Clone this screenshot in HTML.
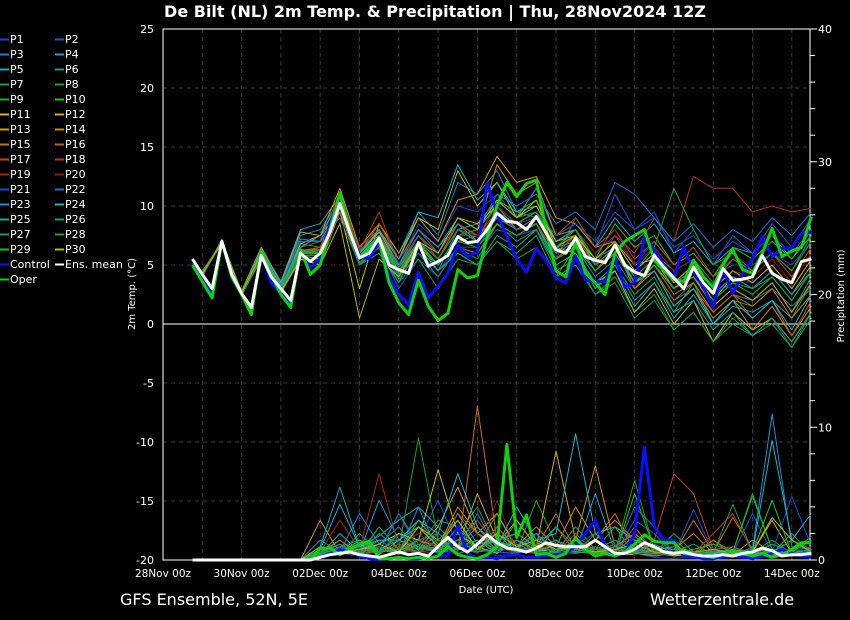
<!DOCTYPE html>
<html><head><meta charset="utf-8"><style>
html,body{margin:0;padding:0;background:#000;width:850px;height:620px;overflow:hidden}
svg text{font-family:"DejaVu Sans","Liberation Sans",sans-serif;fill:#fff}
</style></head><body>
<svg id="chart" width="850" height="620" xmlns="http://www.w3.org/2000/svg">
<rect width="850" height="620" fill="#000"/>
<text x="435" y="17" text-anchor="middle" font-size="16" font-weight="bold">De Bilt  (NL)  2m Temp. &amp; Precipitation | Thu, 28Nov2024 12Z</text>
<g id="grid"></g>
<g id="axes"></g>
<g id="series"></g>
<g id="legend"></g>
<text transform="translate(135,294) rotate(-90)" text-anchor="middle" font-size="10">2m Temp. (°C)</text>
<text transform="translate(844,296) rotate(-90)" text-anchor="middle" font-size="10">Precipitation (mm)</text>
<text x="486" y="593" text-anchor="middle" font-size="10">Date (UTC)</text>
<text x="120" y="605" font-size="16">GFS Ensemble, 52N, 5E</text>
<text x="650" y="605" font-size="16">Wetterzentrale.de</text>
</svg>
<script>
const xLabels=["28Nov 00z","30Nov 00z","02Dec 00z","04Dec 00z","06Dec 00z","08Dec 00z","10Dec 00z","12Dec 00z","14Dec 00z"];
const tempTicks=[25,20,15,10,5,0,-5,-10,-15,-20];
const precipTicks=[0,10,20,30,40];
const operTemp=[5.0,3.6,2.2,7.0,4.0,2.5,0.8,6.2,4.2,2.5,1.4,6.3,4.2,5.0,8.0,11.1,8.0,5.6,6.5,7.1,3.5,1.8,0.8,3.7,1.5,0.3,0.9,4.6,3.9,4.1,7.4,10.0,12.0,10.8,11.9,12.2,8.0,4.5,4.0,7.1,4.3,3.5,2.5,6.0,7.0,7.5,8.0,5.4,4.5,3.8,3.6,5.4,4.0,3.1,5.0,6.3,4.6,4.3,6.0,8.1,5.7,6.2,6.5,9.1];
const controlTemp=[5.2,3.8,2.5,7.0,3.9,2.6,1.2,6.0,3.5,2.6,1.8,6.0,4.8,5.5,8.5,10.8,8.0,5.8,5.5,7.0,4.0,2.5,1.6,4.4,2.2,3.2,4.3,6.7,5.7,6.1,11.9,9.4,7.4,5.5,4.4,6.4,5.4,3.9,3.5,5.7,3.7,3.6,3.6,5.7,3.1,3.5,7.3,6.3,5.0,3.9,6.5,4.5,3.1,1.4,4.6,2.6,4.3,5.5,7.4,5.7,6.4,6.5,7.7,7.8];
const meanTemp=[5.5,4.2,3.0,7.0,4.2,2.6,1.4,5.8,4.0,3.0,2.0,6.0,5.3,6.0,7.8,10.2,7.8,5.6,6.0,7.3,5.0,4.6,4.3,6.9,4.9,5.3,5.8,7.4,6.9,7.0,8.0,9.4,8.7,8.6,8.0,9.1,7.7,6.3,6.0,7.3,5.7,5.4,5.2,6.7,5.0,4.4,4.1,5.8,4.8,3.9,3.0,4.8,3.5,2.6,4.7,3.7,3.8,4.0,5.8,4.3,3.8,3.5,5.3,5.5];
const operPrecip=[0,0,0,0,0,0,0,0,0,0,0,0,0,0.9,0.9,0.4,0.8,1.2,1.4,0.1,0.1,0.2,0.1,0.2,0.1,0.3,1.0,0.4,0.2,0.1,0.4,1.0,8.7,1.7,3.4,0.4,0.5,0.2,0.5,1.7,0.8,0.3,0.5,0.3,0.6,1.2,1.9,1.4,1.3,1.3,0.5,0.4,0.3,0.2,0.4,0.7,0.5,0.3,0.5,0.2,0.4,0.8,1.3,1.3];
const controlPrecip=[0,0,0,0,0,0,0,0,0,0,0,0,0,0.2,0.5,0.8,0.6,0.3,0.1,0,0.1,0.2,0.1,0.1,0.2,0.3,0.3,2.6,0.5,0.1,0.2,0.1,0.3,0.4,0.2,0.2,0.3,0.4,0.5,1.0,2.0,3.0,1.0,0.3,0.5,2.0,8.5,2.5,1.5,1.5,0.3,0.2,0.1,0.1,0.2,0.3,0.2,0.1,0.3,0.5,0.8,0.5,0.3,0.2];
const meanPrecip=[0,0,0,0,0,0,0,0,0,0,0,0,0,0.2,0.4,0.5,0.6,0.4,0.3,0.2,0.4,0.6,0.4,0.5,0.3,1.0,1.7,1.0,0.6,1.2,1.9,1.3,0.9,0.8,0.6,0.9,1.3,1.1,1.0,1.0,1.0,1.5,1.0,0.5,0.5,0.8,1.3,1.0,0.6,0.5,0.6,0.4,0.3,0.3,0.4,0.3,0.5,0.6,0.9,0.7,0.3,0.4,0.4,0.5];
const memberColors=["#2040d0","#1e56c8","#1a82c4","#1aa0cc","#1aa8b4","#1a9c84","#1a9a60","#1aa040","#20a820","#30c010","#c0c010","#c8b010","#c89a10","#c88a10","#c87010","#c05c10","#b84a10","#b03a10","#a02a10","#901a10","#1a50c8","#1a72c8","#1a92cc","#1ab4cc","#1aa494","#1a9c70","#1a9a50","#1aa430","#20b820","#b4b410"];
const memberTemp=[
[4.1,7.1,2.4,6.0,3.2,6.5,7.0,11.0,6.0,8.0,5.0,8.5,7.0,10.0,9.5,11.0,9.0,10.0,7.0,8.0,6.0,7.5,5.0,7.0,5.0,6.0,4.0,5.0,5.0,6.0,5.0,7.0],
[4.3,6.9,2.7,5.6,2.8,5.8,5.5,9.8,5.0,6.5,3.0,5.5,4.0,6.5,6.0,8.0,7.5,8.0,5.5,9.0,6.5,11.0,8.0,9.5,6.0,8.0,5.0,7.5,6.0,8.5,6.5,9.0],
[4.2,7.0,2.8,6.2,3.4,7.5,8.0,10.5,6.5,8.5,6.0,9.5,7.5,12.0,11.0,13.0,9.5,9.0,6.0,6.5,4.0,5.5,3.0,4.5,2.0,3.5,1.0,2.5,2.0,3.0,1.5,3.0],
[4.0,7.2,2.5,5.5,2.6,5.5,5.0,9.5,5.0,6.0,3.5,7.0,4.5,8.0,8.5,10.5,9.0,11.5,7.5,8.5,6.5,9.0,7.0,8.5,6.0,7.0,5.0,6.5,6.0,7.5,5.5,8.0],
[4.4,6.8,2.6,6.4,3.6,8.0,8.5,10.8,6.2,7.8,5.5,8.0,6.5,9.0,8.0,10.0,8.0,8.5,5.0,6.0,3.0,4.5,1.5,3.5,0.5,2.5,0.0,1.5,1.0,2.0,0.5,2.5],
[4.2,7.0,2.6,5.9,3.0,6.2,6.0,10.0,5.5,7.0,4.0,6.5,5.0,7.0,7.5,9.0,8.5,9.5,7.0,8.0,5.5,6.5,3.5,5.0,3.0,4.0,1.5,3.0,2.0,3.5,1.0,4.0],
[4.1,7.1,2.5,5.7,2.9,5.5,5.5,10.5,5.0,7.5,4.5,6.0,4.0,6.5,5.5,8.5,7.0,8.0,4.5,5.5,2.5,4.0,1.0,2.5,-0.5,1.0,-1.5,0.5,-1.0,0.0,-2.0,0.5],
[4.3,6.9,2.7,6.1,3.2,6.8,6.5,10.2,5.8,7.2,4.8,7.5,5.5,8.5,7.5,9.5,8.5,9.0,6.5,7.5,5.5,7.0,4.5,6.0,4.5,5.5,3.5,5.5,4.5,6.0,4.5,7.5],
[4.2,7.0,2.4,5.6,2.7,5.8,5.8,9.5,5.2,6.8,3.8,6.0,4.5,6.0,5.0,7.0,6.0,7.5,4.0,6.5,3.0,5.0,2.5,4.0,1.0,3.5,0.0,2.0,1.5,3.0,0.5,3.5],
[4.2,7.1,2.6,6.0,3.1,6.0,6.2,10.8,5.7,7.5,4.5,7.0,5.5,8.0,7.0,10.5,9.5,10.5,7.0,7.5,5.5,8.5,6.5,7.5,5.0,6.0,4.0,6.5,5.5,7.0,5.5,7.5],
[4.3,7.0,2.7,6.2,3.0,6.8,7.5,9.5,3.0,8.5,5.5,9.0,8.0,13.0,10.0,12.0,9.0,10.5,6.5,6.0,3.5,4.5,1.0,3.0,0.0,2.0,-1.5,1.0,-0.5,0.5,-1.5,1.0],
[4.1,6.9,2.5,5.8,2.9,6.0,6.0,10.0,6.0,7.8,5.0,7.5,6.0,9.0,8.5,10.0,8.5,9.5,6.5,7.5,5.0,6.0,3.5,5.0,3.0,4.5,2.0,4.0,3.0,4.5,2.5,5.0],
[4.4,6.8,2.8,6.5,3.5,7.8,7.5,11.5,6.5,8.5,6.0,9.0,7.0,10.5,11.0,14.2,12.0,12.5,9.0,8.5,6.5,7.0,5.0,5.5,3.0,4.0,1.5,3.0,2.0,3.5,1.0,3.5],
[4.2,7.0,2.6,5.9,3.0,6.3,6.3,10.3,5.5,7.2,4.4,6.8,5.0,7.5,8.0,13.5,11.0,12.0,7.5,8.0,5.0,6.5,3.0,4.5,1.5,3.0,0.5,2.0,-0.5,1.5,-1.0,1.5],
[4.2,7.0,2.5,5.5,2.7,5.5,5.0,9.5,5.0,7.0,4.0,6.5,4.5,6.5,6.0,8.5,7.5,8.5,5.5,7.0,4.5,6.5,3.0,5.0,2.5,3.5,1.0,2.5,1.5,3.0,0.5,2.5],
[4.5,6.9,2.6,6.0,3.0,6.0,6.5,10.5,6.5,8.0,5.0,7.5,5.5,8.5,7.5,9.0,8.0,8.5,6.0,7.5,5.0,6.0,3.5,4.5,2.0,3.0,1.0,2.5,0.5,2.0,-1.0,2.0],
[4.3,7.0,2.7,6.0,3.0,6.2,6.5,10.5,6.0,8.5,5.5,8.0,6.0,8.5,7.0,9.0,8.5,9.5,7.5,9.0,6.5,8.0,5.5,7.0,5.0,6.5,4.0,5.5,4.5,6.0,4.0,6.5],
[4.2,7.1,2.6,6.1,3.3,6.5,7.0,11.2,6.2,9.5,5.0,7.5,5.5,8.0,7.5,9.5,8.0,8.5,6.0,7.0,5.0,7.5,6.0,9.0,7.0,12.5,11.5,11.5,9.5,10.0,9.5,9.8],
[4.2,7.0,2.5,5.8,3.0,6.0,5.8,10.0,5.5,7.0,4.5,6.5,5.0,7.0,7.0,9.0,8.0,9.0,6.0,7.0,5.0,6.0,4.0,5.5,3.5,4.5,2.5,4.0,3.5,5.0,3.0,5.5],
[4.3,6.9,2.7,6.0,3.0,6.0,6.0,10.5,6.0,7.5,4.8,7.0,5.0,7.5,7.5,10.0,8.5,9.0,6.5,8.0,6.0,8.0,5.0,6.5,4.5,5.5,3.0,4.5,4.0,5.5,3.5,6.0],
[4.1,7.0,2.6,5.9,2.9,6.0,6.0,10.0,5.0,7.0,4.0,6.0,4.5,6.5,6.5,9.0,8.5,9.5,7.5,8.5,7.0,9.5,8.0,9.0,6.5,7.5,5.5,7.0,6.0,7.5,6.0,8.0],
[4.2,7.1,2.5,6.0,3.1,7.0,7.0,9.0,5.0,6.5,4.5,7.5,6.0,9.0,8.0,11.0,10.0,11.0,8.5,9.5,8.0,12.0,11.0,9.0,7.0,8.5,6.5,8.0,7.0,9.0,7.5,9.5],
[4.2,7.0,2.7,6.3,3.4,7.2,7.0,10.0,6.0,7.5,5.0,8.0,6.5,8.5,7.0,9.0,8.0,9.0,6.0,7.0,4.5,6.0,3.5,5.0,3.0,4.5,2.5,4.0,3.0,4.5,2.5,4.5],
[4.4,6.9,2.6,6.2,3.2,6.5,7.5,10.5,6.0,8.0,5.5,9.5,9.0,13.5,10.5,12.0,9.5,10.0,7.0,8.0,5.0,6.5,3.5,4.5,1.5,3.0,0.0,2.0,0.5,2.0,-0.5,2.5],
[4.2,7.0,2.6,5.8,3.0,6.0,6.0,10.0,5.5,7.0,4.2,6.5,4.5,6.0,5.0,7.5,6.5,8.0,5.0,6.0,3.5,5.0,2.0,3.5,1.0,2.0,-0.5,1.0,-1.0,0.5,-1.5,1.0],
[4.3,7.0,2.6,6.0,3.0,6.2,6.2,10.3,5.8,7.5,4.8,7.0,5.5,8.0,7.0,9.5,8.5,9.5,6.5,7.0,5.0,6.5,4.0,5.5,3.5,4.5,2.5,3.5,3.0,4.0,2.0,4.5],
[4.2,7.0,2.5,5.7,2.8,5.8,5.5,10.0,5.0,6.5,3.5,5.5,3.0,5.5,5.0,7.0,5.5,6.5,4.0,5.0,2.5,3.5,0.5,2.0,-0.5,1.0,-1.5,0.0,-1.0,0.5,-2.0,1.0],
[4.2,7.0,2.6,6.0,3.0,6.0,6.0,10.5,5.5,7.0,4.5,7.0,5.0,7.5,8.0,10.5,9.0,9.5,6.5,8.0,5.5,7.0,4.5,6.5,11.5,8.0,5.0,6.0,4.5,6.0,4.5,7.0],
[4.3,7.0,2.7,6.0,3.0,6.2,6.0,10.0,5.5,7.0,4.5,6.5,5.0,7.0,6.5,8.5,7.5,8.5,5.5,6.5,4.5,6.0,3.5,5.0,3.0,4.0,2.0,3.5,2.5,4.0,2.0,4.5],
[4.2,7.0,2.6,6.0,2.8,5.5,5.0,8.5,0.5,5.5,4.0,7.0,6.0,9.0,8.0,10.5,9.0,10.0,7.0,7.5,5.5,7.0,4.5,6.0,3.5,5.0,3.0,4.5,3.5,5.0,3.0,5.5]];
const memberPrecip=[
[0,0,0,0,0,0,0.2,0.5,0.3,1,0.5,0.8,1.5,0.5,1,0.3,0.5,1.2,0.4,0.6,1,0.3,0.5,0.2,0.1,0.3,0.2,0.5,0.3,0.2,0.4,0.2],
[0,0,0,0,0,0,0.5,1.2,0.3,2.5,0.8,1.5,4.5,1.0,2.0,0.5,1.5,0.6,0.8,1.2,2.0,0.5,3.0,2.0,0.4,0.2,0.3,0.5,3.5,0.5,1.5,0.5],
[0,0,0,0,0,0,1.5,0.6,3.5,1.2,2.5,0.7,2.0,0.9,3.5,0.8,1.0,2.0,0.6,1.5,0.8,1.5,0.6,0.3,0.5,0.2,0.8,0.3,1.0,0.4,0.5,0.8],
[0,0,0,0,0,0,0.4,2.0,0.6,4.5,1.5,2.5,1.0,3.5,1.2,2.0,0.6,1.0,2.5,0.6,5.0,0.6,1.8,0.5,0.3,0.5,0.2,1.0,0.4,1.2,0.6,0.4],
[0,0,0,0,0,0,1.0,5.5,1.0,1.8,3.0,4.0,2.5,1.0,2.5,0.6,1.5,0.6,1.2,0.8,0.6,1.0,0.5,0.3,0.5,0.3,0.2,0.5,0.3,0.6,0.4,0.3],
[0,0,0,0,0,0,0.3,1.0,1.5,0.5,2.0,1.0,3.0,2.5,1.0,3.5,0.8,2.0,0.5,1.5,0.6,0.4,0.8,0.5,0.6,1.2,0.4,0.3,0.6,0.5,0.8,0.6],
[0,0,0,0,0,0,0.8,0.4,2.0,0.6,3.5,1.2,0.6,2.0,4.0,1.0,1.5,0.6,0.8,1.2,0.5,0.3,1.0,0.4,0.6,0.3,1.5,0.4,0.3,0.5,2.0,0.4],
[0,0,0,0,0,0,0.4,1.5,0.5,2.5,0.8,9.2,1.5,3.0,0.6,2.5,0.8,1.0,1.5,0.5,2.0,0.6,0.5,0.8,0.4,0.3,0.5,0.6,5.0,0.8,0.4,0.5],
[0,0,0,0,0,0,0.6,0.8,1.2,0.6,2.0,1.0,0.5,1.5,3.0,1.0,0.6,4.5,1.2,0.5,0.8,2.5,0.4,0.6,1.5,0.4,0.3,0.5,0.4,0.3,0.6,1.8],
[0,0,0,0,0,0,0.2,0.9,0.5,1.5,0.6,3.0,1.2,0.8,1.5,0.5,3.0,1.0,0.5,0.8,0.6,0.4,5.0,0.8,0.3,0.6,0.4,0.5,0.6,4.5,0.5,0.8],
[0,0,0,0,0,0,0.3,1.0,0.5,1.2,2.0,1.5,6.8,2.0,1.0,0.5,1.5,0.8,0.6,1.0,0.6,0.5,0.4,0.8,0.3,0.5,0.6,0.3,0.5,0.4,0.3,0.5],
[0,0,0,0,0,0,0.5,0.4,0.8,1.0,0.5,2.5,1.5,1.0,5.0,1.5,2.0,1.0,8.2,1.5,0.6,1.2,0.5,0.4,0.6,0.5,0.3,0.4,0.6,3.0,0.5,0.4],
[0,0,0,0,0,0,3.0,0.5,1.2,0.4,1.5,0.8,2.5,5.5,2.0,1.2,3.0,1.0,0.6,1.5,7.1,1.0,2.0,0.8,1.0,0.6,0.4,0.5,0.8,0.6,0.4,0.5],
[0,0,0,0,0,0,0.4,0.8,0.5,1.0,0.6,1.5,1.0,4.0,2.0,3.5,1.0,2.5,1.0,4.0,1.5,3.0,1.5,0.6,0.8,2.0,0.5,0.4,1.5,0.6,0.8,0.4],
[0,0,0,0,0,0,0.6,1.5,0.4,0.8,0.5,1.0,0.8,0.6,11.6,1.5,2.0,1.0,3.5,0.8,1.5,3.5,0.6,1.2,0.5,3.0,0.6,3.2,0.8,0.5,0.6,0.4],
[0,0,0,0,0,0,0.3,0.6,0.8,0.5,1.2,0.6,0.8,3.5,2.0,0.8,1.0,0.5,2.5,0.6,1.0,0.5,2.5,0.6,0.4,0.5,1.5,0.6,0.5,0.3,0.6,0.5],
[0,0,0,0,0,0,0.2,0.5,0.6,0.8,0.4,1.5,0.6,1.0,0.5,2.5,1.0,0.6,0.5,2.0,0.6,0.8,0.5,1.5,6.5,5.0,0.8,1.0,0.5,0.6,0.4,0.5],
[0,0,0,0,0,0,0.5,1.2,0.4,0.6,1.0,0.5,1.5,0.8,3.0,1.0,0.5,1.2,0.6,2.5,0.8,0.5,1.2,0.4,0.6,0.5,2.0,3.5,0.6,0.5,0.8,1.5],
[0,0,0,0,0,0,0.6,3.0,0.8,6.5,1.0,2.0,0.8,1.5,0.6,1.0,0.5,0.8,1.2,0.6,0.5,0.8,0.6,0.4,0.5,0.6,0.3,0.5,0.4,0.6,0.5,0.4],
[0,0,0,0,0,0,0.3,0.5,0.4,0.6,0.8,0.5,0.6,1.0,0.5,4.5,0.6,0.5,0.8,0.6,0.5,1.2,0.4,0.6,0.8,0.5,0.4,0.6,0.5,0.8,0.6,1.0],
[0,0,0,0,0,0,0.5,0.6,0.8,1.5,0.6,1.0,0.5,0.8,1.5,0.6,1.0,0.5,0.8,0.6,0.5,1.0,0.6,0.8,0.5,3.8,0.6,0.4,0.5,0.6,4.8,1.0],
[0,0,0,0,0,0,0.4,1.0,0.5,0.6,3.5,0.8,1.0,0.5,0.8,0.6,0.5,1.0,0.6,0.5,0.8,0.6,4.0,2.5,0.5,0.4,0.6,0.5,0.6,0.5,0.8,0.6],
[0,0,0,0,0,0,0.6,0.5,1.5,0.8,0.5,4.0,0.6,2.5,1.0,1.5,0.8,2.0,0.6,1.0,0.5,0.8,0.6,1.2,0.5,0.4,0.6,0.5,0.8,11.0,1.0,0.8],
[0,0,0,0,0,0,0.8,4.2,1.0,1.5,1.5,3.0,2.0,6.5,2.5,1.0,4.0,1.5,2.0,9.5,2.0,2.5,1.5,1.0,0.8,0.6,0.5,0.8,0.6,9.0,1.5,3.5],
[0,0,0,0,0,0,0.4,0.6,1.0,0.8,1.5,1.0,0.6,0.8,1.2,1.5,2.0,1.0,1.5,0.8,0.6,1.0,0.8,0.6,0.5,0.4,0.6,0.8,0.5,0.6,0.5,0.8],
[0,0,0,0,0,0,0.6,1.2,0.5,2.0,0.8,1.5,2.0,1.0,1.5,0.8,1.2,0.6,2.5,1.0,0.8,0.6,0.5,0.8,0.6,0.5,0.8,0.6,0.5,1.2,0.6,0.5],
[0,0,0,0,0,0,0.3,0.8,0.6,1.0,0.5,1.2,0.8,1.5,0.6,0.8,1.5,1.0,0.6,2.5,0.8,1.5,0.6,0.5,2.0,0.6,0.5,4.2,0.6,1.5,0.5,0.6],
[0,0,0,0,0,0,0.5,0.6,0.8,0.5,1.0,0.6,1.5,0.8,0.6,1.0,0.8,0.5,0.6,1.0,0.8,0.6,6.0,0.8,0.5,0.6,0.4,0.5,0.8,0.6,1.5,0.8],
[0,0,0,0,0,0,0.8,0.5,1.5,0.6,0.8,1.0,0.6,2.0,0.8,1.5,0.6,0.8,1.0,0.6,0.5,0.8,0.6,0.5,0.6,0.8,1.2,0.6,4.8,0.8,0.6,1.5],
[0,0,0,0,0,0,1.0,0.6,0.8,1.2,0.6,2.5,1.0,3.0,0.8,2.0,1.0,1.5,0.8,1.0,0.6,0.8,1.2,0.6,0.5,0.6,0.8,0.5,0.6,3.2,1.5,0.6]];

const NS="http://www.w3.org/2000/svg";
const X0=163,X1=810,YT=29,YB=560,DAY=39.3;
function xDay(d){return X0+d*DAY;}
function xStep(i){return xDay(0.75+i*0.25);}
function yT(v){return YB-(v+20)*(YB-YT)/45;}
function yP(v){return YB-v*(YB-YT)/40;}
function mk(tag,attrs,parent){const e=document.createElementNS(NS,tag);for(const k in attrs)e.setAttribute(k,attrs[k]);parent.appendChild(e);return e;}
const grid=document.getElementById('grid'),axes=document.getElementById('axes'),series=document.getElementById('series'),legend=document.getElementById('legend');
// grid
for(let d=1;d<17;d++){const l=mk('line',{x1:xDay(d),x2:xDay(d),y1:YT,y2:YB,stroke:'#3a3a3a','stroke-dasharray':'4,4','stroke-width':1},grid);

}
tempTicks.forEach(t=>{if(t===25||t===-20)return;const l=mk('line',{x1:X0,x2:X1,y1:yT(t),y2:yT(t),stroke:t===0?'#fff':'#3a3a3a','stroke-dasharray':t===0?'none':'4,4','stroke-width':1},grid);

});
// frame
const fr=mk('rect',{x:X0,y:YT,width:X1-X0,height:YB-YT,fill:'none',stroke:'#fff','stroke-width':1},axes);


tempTicks.forEach(t=>{const tx=mk('text',{x:154,y:yT(t)+4,'text-anchor':'end','font-size':11},axes);tx.textContent=t;

});
for(let p=0;p<=40;p+=2){const l=mk('line',{x1:X1,x2:X1+(p%10===0?7:5),y1:yP(p),y2:yP(p),stroke:'#fff'},axes);

}
precipTicks.forEach(p=>{const tx=mk('text',{x:818,y:yP(p)+4,'font-size':11},axes);tx.textContent=p;

});
xLabels.forEach((s,i)=>{const tx=mk('text',{x:xDay(i*2),y:577,'text-anchor':'middle','font-size':10.5},axes);tx.textContent=s;

});
function poly(vals,fx,fy,color,w,name){const pts=vals.map((v,i)=>fx(i).toFixed(1)+','+fy(v).toFixed(1)).join(' ');
const p=mk('polyline',{points:pts,fill:'none',stroke:color,'stroke-width':w,'stroke-linejoin':'round'},series);

}
const xm=k=>xStep(2*k+1);
memberPrecip.forEach((arr,m)=>poly(arr,xm,yP,memberColors[m],1,'precip-p'+(m+1)));
memberTemp.forEach((arr,m)=>poly(arr,xm,yT,memberColors[m],1,'temp-p'+(m+1)));
poly(controlPrecip,xStep,yP,'#0a10ff',3,'precip-control');
poly(operPrecip,xStep,yP,'#10d010',3,'precip-oper');
poly(meanPrecip,xStep,yP,'#ffffff',3,'precip-ens-mean');
poly(controlTemp,xStep,yT,'#0a10ff',3,'temp-control');
poly(operTemp,xStep,yT,'#10d010',3,'temp-oper');
poly(meanTemp,xStep,yT,'#ffffff',3,'temp-ens-mean');
// legend
const entries=[];for(let i=0;i<30;i++)entries.push(['P'+(i+1),memberColors[i]]);
entries.push(['Control','#0a10ff'],['Ens. mean','#ffffff'],['Oper','#10d010']);
entries.forEach((e,i)=>{const col=i%2,row=Math.floor(i/2);const x=col?55:0,y=39+row*15;
const g=mk('g',{},legend);


mk('line',{x1:x,x2:x+9,y1:y+0.5,y2:y+0.5,stroke:e[1],'stroke-width':2},g);
const tx=mk('text',{x:x+10,y:y+4,'font-size':11},g);tx.textContent=e[0];});
</script>
</body></html>
